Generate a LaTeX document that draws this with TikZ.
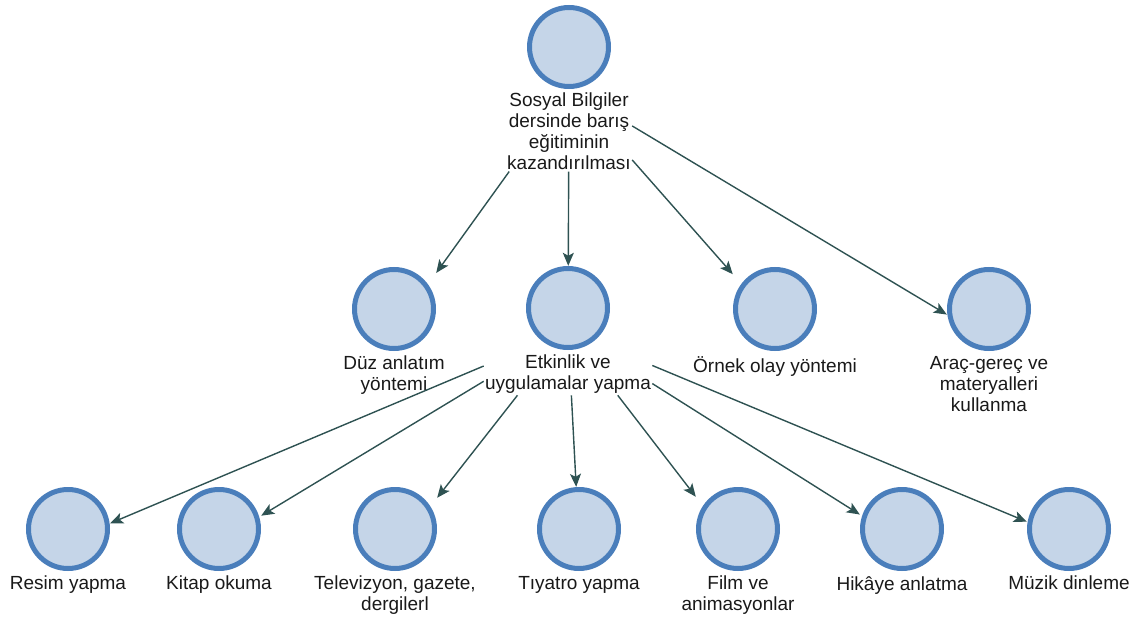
\documentclass[tikz,border=0pt]{standalone}
\usepackage{fontspec}
\setmainfont{Liberation Sans}
\usetikzlibrary{positioning,fit,arrows.meta}
\definecolor{dotfill}{HTML}{C5D5E8}
\definecolor{dotline}{HTML}{4A7EBB}
\definecolor{arrline}{HTML}{2E5252}
\tikzset{
  dot/.style={circle, minimum size=79pt, inner sep=0pt, line width=5pt, draw=dotline, fill=dotfill},
  lbl/.style={align=center, inner sep=1pt, text=black!90, font=\fontsize{19}{21}\selectfont},
  box/.style={inner sep=0pt},
  arr/.style={draw=arrline, line width=1.4pt, -{Stealth[length=13pt,width=11pt,inset=3pt]}}
}
\begin{document}
\begin{tikzpicture}[x=1pt,y=-1pt]
\useasboundingbox (0,0) rectangle (1136,621);
% top
\node[dot] (top-c) at (569,47){};
\node[lbl, below=3pt of top-c] (top-t){Sosyal Bilgiler\\dersinde barış\\eğitiminin\\kazandırılması};
\node[box, fit=(top-c)(top-t)] (top){};
% middle row
\node[dot] (duz-c) at (394,309){};
\node[lbl, below=4pt of duz-c] (duz-t){Düz anlatım\\yöntemi};
\node[box, fit=(duz-c)(duz-c |- duz-t.south)] (duz){};
\node[dot] (etk-c) at (568,308){};
\node[lbl, below=4pt of etk-c] (etk-t){Etkinlik ve\\uygulamalar yapma};
\node[box, fit=(etk-c)(etk-t)] (etk){};
\node[box, fit=(etk-c)(etk-c |- etk-t.south)] (etk-in){};
\node[dot] (ornek-c) at (775,309){};
\node[lbl, below=4pt of ornek-c] (ornek-t){Örnek olay yöntemi};
\node[box, fit=(ornek-c)(ornek-c |- ornek-t.south)] (ornek){};
\node[dot] (arac-c) at (989,309){};
\node[lbl, below=4pt of arac-c] (arac-t){Araç-gereç ve\\materyalleri\\kullanma};
\node[box, fit=(arac-c)(arac-c |- arac-t.south)] (arac){};
% bottom row
\node[dot] (resim-c) at (68,529){};
\node[lbl, below=4pt of resim-c] (resim-t){Resim yapma};
\node[box, fit=(resim-c)(resim-c |- resim-t.south)] (resim){};
\node[dot] (kitap-c) at (219,529){};
\node[lbl, below=4pt of kitap-c] (kitap-t){Kitap okuma};
\node[box, fit=(kitap-c)(kitap-c |- kitap-t.south)] (kitap){};
\node[dot] (tv-c) at (395,529){};
\node[lbl, below=4pt of tv-c] (tv-t){Televizyon, gazete,\\dergilerl};
\node[box, fit=(tv-c)(tv-c |- tv-t.south)] (tv){};
\node[dot] (tiyatro-c) at (579,529){};
\node[lbl, below=4pt of tiyatro-c] (tiyatro-t){Tıyatro yapma};
\node[box, fit=(tiyatro-c)(tiyatro-c |- tiyatro-t.south)] (tiyatro){};
\node[dot] (film-c) at (738,529){};
\node[lbl, below=4pt of film-c] (film-t){Film ve\\animasyonlar};
\node[box, fit=(film-c)(film-c |- film-t.south)] (film){};
\node[dot] (hikaye-c) at (902,529){};
\node[lbl, below=4pt of hikaye-c] (hikaye-t){Hikâye anlatma};
\node[box, fit=(hikaye-c)(hikaye-c |- hikaye-t.south)] (hikaye){};
\node[dot] (muzik-c) at (1069,529){};
\node[lbl, below=4pt of muzik-c] (muzik-t){Müzik dinleme};
\node[box, fit=(muzik-c)(muzik-c |- muzik-t.south)] (muzik){};
% arrows
\draw[arr] (top) -- (duz);
\draw[arr] (top) -- (etk-in);
\draw[arr] (top) -- (ornek);
\draw[arr] (top) -- (arac);
\draw[arr] (etk) -- (resim);
\draw[arr] (etk) -- (kitap);
\draw[arr] (etk) -- (tv);
\draw[arr] (etk) -- (tiyatro);
\draw[arr] (etk) -- (film);
\draw[arr] (etk) -- (hikaye);
\draw[arr] (etk) -- (muzik);
\end{tikzpicture}
\end{document}
